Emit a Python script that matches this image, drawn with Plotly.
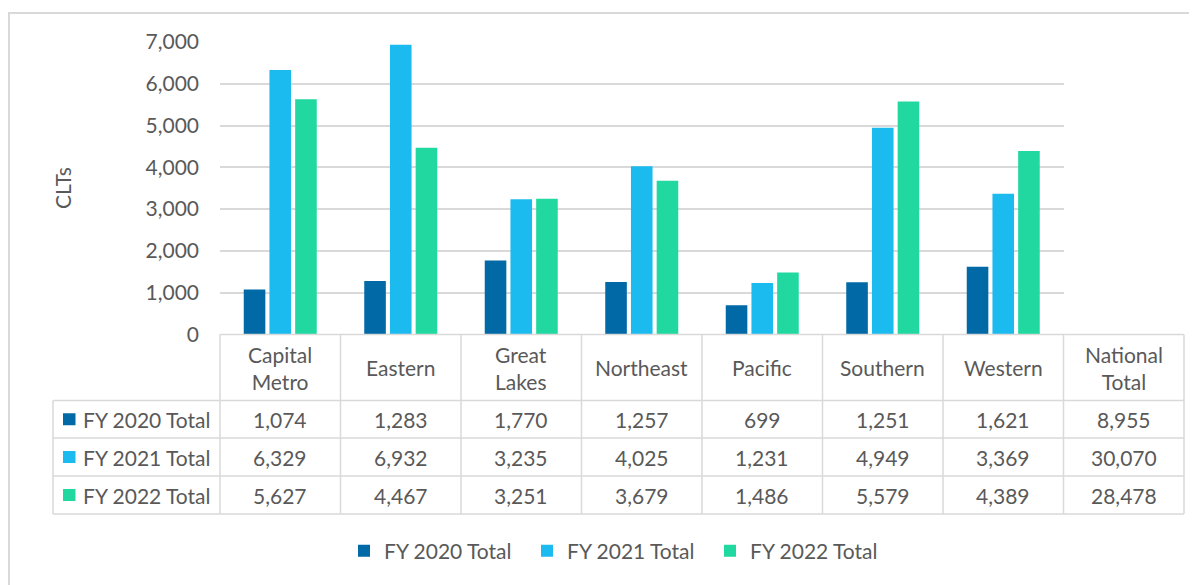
import plotly.graph_objects as go

# Data
regions = ["Capital Metro", "Eastern", "Great Lakes", "Northeast", "Pacific", "Southern", "Western"]
header_labels = ["Capital<br>Metro", "Eastern", "Great<br>Lakes", "Northeast", "Pacific",
                 "Southern", "Western", "National<br>Total"]
series_names = ["FY 2020 Total", "FY 2021 Total", "FY 2022 Total"]
fy2020 = [1074, 1283, 1770, 1257, 699, 1251, 1621]
fy2021 = [6329, 6932, 3235, 4025, 1231, 4949, 3369]
fy2022 = [5627, 4467, 3251, 3679, 1486, 5579, 4389]
national = [8955, 30070, 28478]
colors = ["#0069A6", "#1BBBF0", "#21D9A0"]

W, H = 1197, 585
OFF = 8  # page body margin
TXT = "#595959"
GRID = "#D9D9D9"
FONT = "Lato"
FS = 21

def px(x):
    return (x - OFF) / W

def py(y):
    return 1 - (y - OFF) / H

# layout geometry (pixels in the target picture)
plot_x0, plot_x1 = 220, 1063.5
plot_ytop, plot_y0 = 42, 334.5
cw = (plot_x1 - plot_x0) / 7
tab_left = 53
row_lines = [334.5, 400.5, 438, 476, 514]

fig = go.Figure()
for name, vals, c in zip(series_names, [fy2020, fy2021, fy2022], colors):
    fig.add_trace(go.Bar(x=regions, y=vals, name=name, marker=dict(color=c, line=dict(width=0))))

shapes = []
annotations = []

# outer chart border
shapes.append(dict(type="rect", xref="paper", yref="paper", x0=px(9), x1=px(1220),
                   y0=py(620), y1=py(13), line=dict(color=GRID, width=2)))

# table lines
ln = dict(color=GRID, width=1.5)
shapes.append(dict(type="line", xref="paper", yref="paper", x0=px(plot_x0), x1=px(plot_x0 + 8 * cw),
                   y0=py(row_lines[0]), y1=py(row_lines[0]), line=ln))
for y in row_lines[1:]:
    shapes.append(dict(type="line", xref="paper", yref="paper", x0=px(tab_left), x1=px(plot_x0 + 8 * cw),
                       y0=py(y), y1=py(y), line=ln))
shapes.append(dict(type="line", xref="paper", yref="paper", x0=px(tab_left), x1=px(tab_left),
                   y0=py(row_lines[1]), y1=py(row_lines[-1]), line=ln))
for k in range(9):
    xx = plot_x0 + k * cw
    shapes.append(dict(type="line", xref="paper", yref="paper", x0=px(xx), x1=px(xx),
                       y0=py(row_lines[0]), y1=py(row_lines[-1]), line=ln))

txt_font = dict(family=FONT, size=FS, color=TXT)

# header labels
for k, lab in enumerate(header_labels):
    annotations.append(dict(xref="paper", yref="paper", x=px(plot_x0 + (k + 0.5) * cw),
                            y=py((row_lines[0] + row_lines[1]) / 2), text=lab, showarrow=False,
                            xanchor="center", yanchor="middle", font=txt_font, align="center"))

# row cells
rows = [fy2020 + [national[0]], fy2021 + [national[1]], fy2022 + [national[2]]]
for r, (name, vals, c) in enumerate(zip(series_names, rows, colors)):
    yc = (row_lines[r + 1] + row_lines[r + 2]) / 2
    shapes.append(dict(type="rect", xref="paper", yref="paper", x0=px(63), x1=px(75.5),
                       y0=py(yc + 6), y1=py(yc - 6), line=dict(width=0), fillcolor=c))
    annotations.append(dict(xref="paper", yref="paper", x=px(81), y=py(yc), text=name,
                            showarrow=False, xanchor="left", yanchor="middle", font=txt_font))
    for k, v in enumerate(vals):
        annotations.append(dict(xref="paper", yref="paper", x=px(plot_x0 + (k + 0.5) * cw), y=py(yc),
                                text=f"{v:,}", showarrow=False, xanchor="center", yanchor="middle",
                                font=txt_font))

# y axis title
annotations.append(dict(xref="paper", yref="paper", x=px(62), y=py(188), text="CLTs", textangle=-90,
                        showarrow=False, xanchor="center", yanchor="middle", font=txt_font))

fig.update_layout(
    width=W, height=H,
    margin=dict(l=0, r=0, t=0, b=0, autoexpand=False),
    paper_bgcolor="white", plot_bgcolor="white",
    barmode="group", bargap=0.36, bargroupgap=0.16,
    xaxis=dict(domain=[px(plot_x0), px(plot_x1)], showticklabels=False, showgrid=False,
               zeroline=False, showline=False, fixedrange=True),
    yaxis=dict(domain=[py(plot_y0), py(plot_ytop)], range=[0, 7000], dtick=1000,
               tickformat=",", showgrid=True, gridcolor=GRID, gridwidth=1.5,
               zeroline=False, showline=False, ticklabelstandoff=20, fixedrange=True,
               tickfont=txt_font),
    showlegend=True,
    legend=dict(orientation="h", x=px(344), xanchor="left", y=py(551), yanchor="middle",
                font=txt_font, traceorder="normal",
                entrywidth=138, entrywidthmode="pixels"),
    shapes=shapes,
    annotations=annotations,
    font=dict(family=FONT, color=TXT),
)

fig.write_html("out.html")
